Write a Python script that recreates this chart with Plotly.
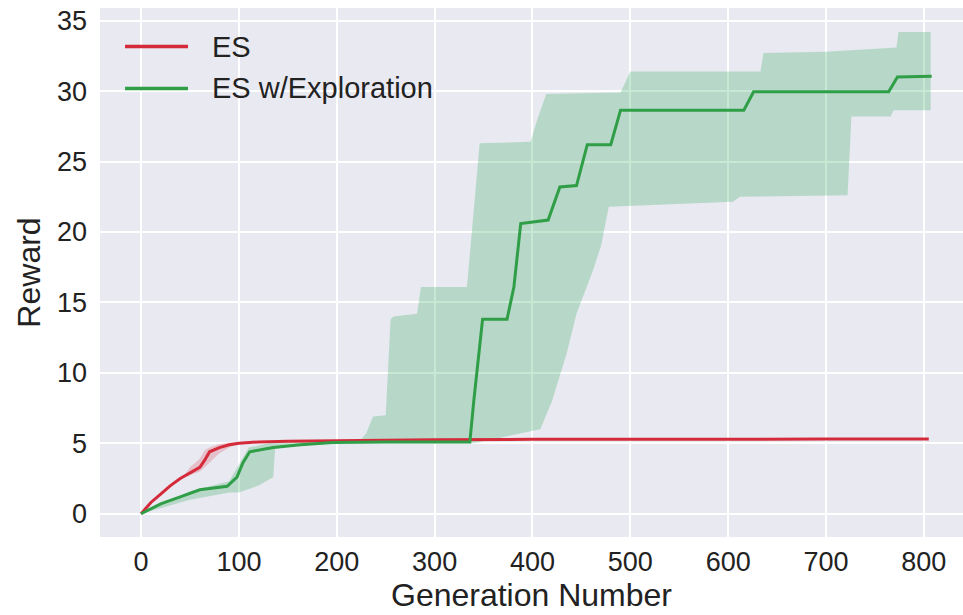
import plotly.graph_objects as go

# ES (red) mean curve
es_x = [0, 10, 20, 30, 40, 50, 60, 65, 70, 80, 90, 100, 120, 150, 200, 300, 400, 500, 600, 700, 805]
es_y = [0, 0.8, 1.4, 2.0, 2.5, 2.9, 3.3, 3.8, 4.4, 4.7, 4.9, 5.0, 5.1, 5.15, 5.2, 5.25, 5.28, 5.3, 5.3, 5.3, 5.3]
# ES band
es_band_x = [45, 50, 60, 65, 70, 80, 90, 100]
es_upper = [2.8, 3.3, 3.9, 4.5, 4.7, 4.95, 5.05, 5.05]
es_lower = [2.6, 2.7, 3.0, 3.3, 3.6, 4.3, 4.7, 4.95]

# ES w/Exploration (green) mean curve
ex_x = [0, 20, 40, 60, 88, 98, 104, 111, 135, 163, 196, 250, 336, 340, 349, 374, 381, 388, 416, 428, 445, 456, 480,
        490, 616, 626, 764, 773, 808]
ex_y = [0, 0.7, 1.2, 1.7, 1.95, 2.6, 3.6, 4.4, 4.7, 4.9, 5.05, 5.1, 5.1, 8.0, 13.8, 13.8, 16.1, 20.6, 20.85, 23.2,
        23.3, 26.2, 26.2, 28.65, 28.65, 29.95, 29.95, 31.0, 31.06]

# Green band upper bound
ex_up_x = [0, 50, 90, 100, 110, 130, 200, 225, 230, 237, 250, 255, 258, 282, 286, 333, 338, 346, 398, 405, 414,
           490, 500, 633, 636, 700, 772, 774, 807]
ex_up_y = [0, 1.6, 2.3, 3.5, 4.7, 5.0, 5.2, 5.3, 5.7, 6.9, 7.0, 13.8, 14.0, 14.2, 16.1, 16.1, 20.0, 26.3, 26.4, 28.0,
           29.8, 29.9, 31.4, 31.4, 32.7, 32.8, 33.1, 34.2, 34.2]
# Green band lower bound
ex_lo_x = [0, 50, 90, 100, 120, 135, 137, 150, 200, 340, 408, 420, 435, 445, 462, 470, 478, 605, 612, 722, 726,
           766, 769, 807]
ex_lo_y = [0, 1.0, 1.5, 1.5, 2.0, 2.6, 4.6, 4.8, 5.0, 5.0, 6.0, 8.0, 11.4, 14.2, 17.3, 19.0, 21.8, 22.15, 22.5,
           22.6, 28.2, 28.2, 28.65, 28.65]

x_ticks = [0, 100, 200, 300, 400, 500, 600, 700, 800]
y_ticks = [0, 5, 10, 15, 20, 25, 30, 35]

series_names = ["ES", "ES w/Exploration"]

RED = "#d42a3a"
GREEN = "#2f9e46"
FONT = "Liberation Sans, Arial, sans-serif"

fig = go.Figure()

fig.add_trace(go.Scatter(
    x=ex_up_x + ex_lo_x[::-1], y=ex_up_y + ex_lo_y[::-1], mode="lines",
    fill="toself", fillcolor="rgba(70,180,105,0.30)", line=dict(width=0),
    hoverinfo="skip", showlegend=False))
fig.add_trace(go.Scatter(
    x=es_band_x + es_band_x[::-1], y=es_upper + es_lower[::-1], mode="lines",
    fill="toself", fillcolor="rgba(214,40,58,0.22)", line=dict(width=0),
    hoverinfo="skip", showlegend=False))

fig.add_trace(go.Scatter(x=es_x, y=es_y, mode="lines", name=series_names[0],
                         line=dict(color=RED, width=3), showlegend=False))
fig.add_trace(go.Scatter(x=ex_x, y=ex_y, mode="lines", name=series_names[1],
                         line=dict(color=GREEN, width=3), showlegend=False))

# Legend drawn manually (paper coordinates)
legend_rows = [(0.927, RED, series_names[0]), (0.848, GREEN, series_names[1])]
for ypos, col, label in legend_rows:
    fig.add_shape(type="line", xref="paper", yref="paper", x0=0.029, x1=0.102, y0=ypos, y1=ypos,
                  line=dict(color=col, width=3.5))
    fig.add_annotation(xref="paper", yref="paper", x=0.1275, y=ypos, xanchor="left", yanchor="middle",
                       text=label, showarrow=False, font=dict(size=29, color="#222222", family=FONT))

fig.update_layout(
    width=963, height=615,
    margin=dict(l=100, r=0, t=8, b=78),
    paper_bgcolor="white",
    plot_bgcolor="#e9e9f1",
    font=dict(family=FONT, size=27, color="#222222"),
    showlegend=False,
    xaxis=dict(range=[-42, 840], tickvals=x_ticks, showgrid=True, gridcolor="white", gridwidth=2,
               zeroline=False, showline=False, ticks="", ticklabelstandoff=6,
               title=dict(text="Generation Number", standoff=0)),
    yaxis=dict(range=[-1.65, 35.9], tickvals=y_ticks, showgrid=True, gridcolor="white", gridwidth=2,
               zeroline=False, showline=False, ticks="", ticklabelstandoff=12,
               title=dict(text="Reward", standoff=6)),
)

fig.write_html("out.html")
